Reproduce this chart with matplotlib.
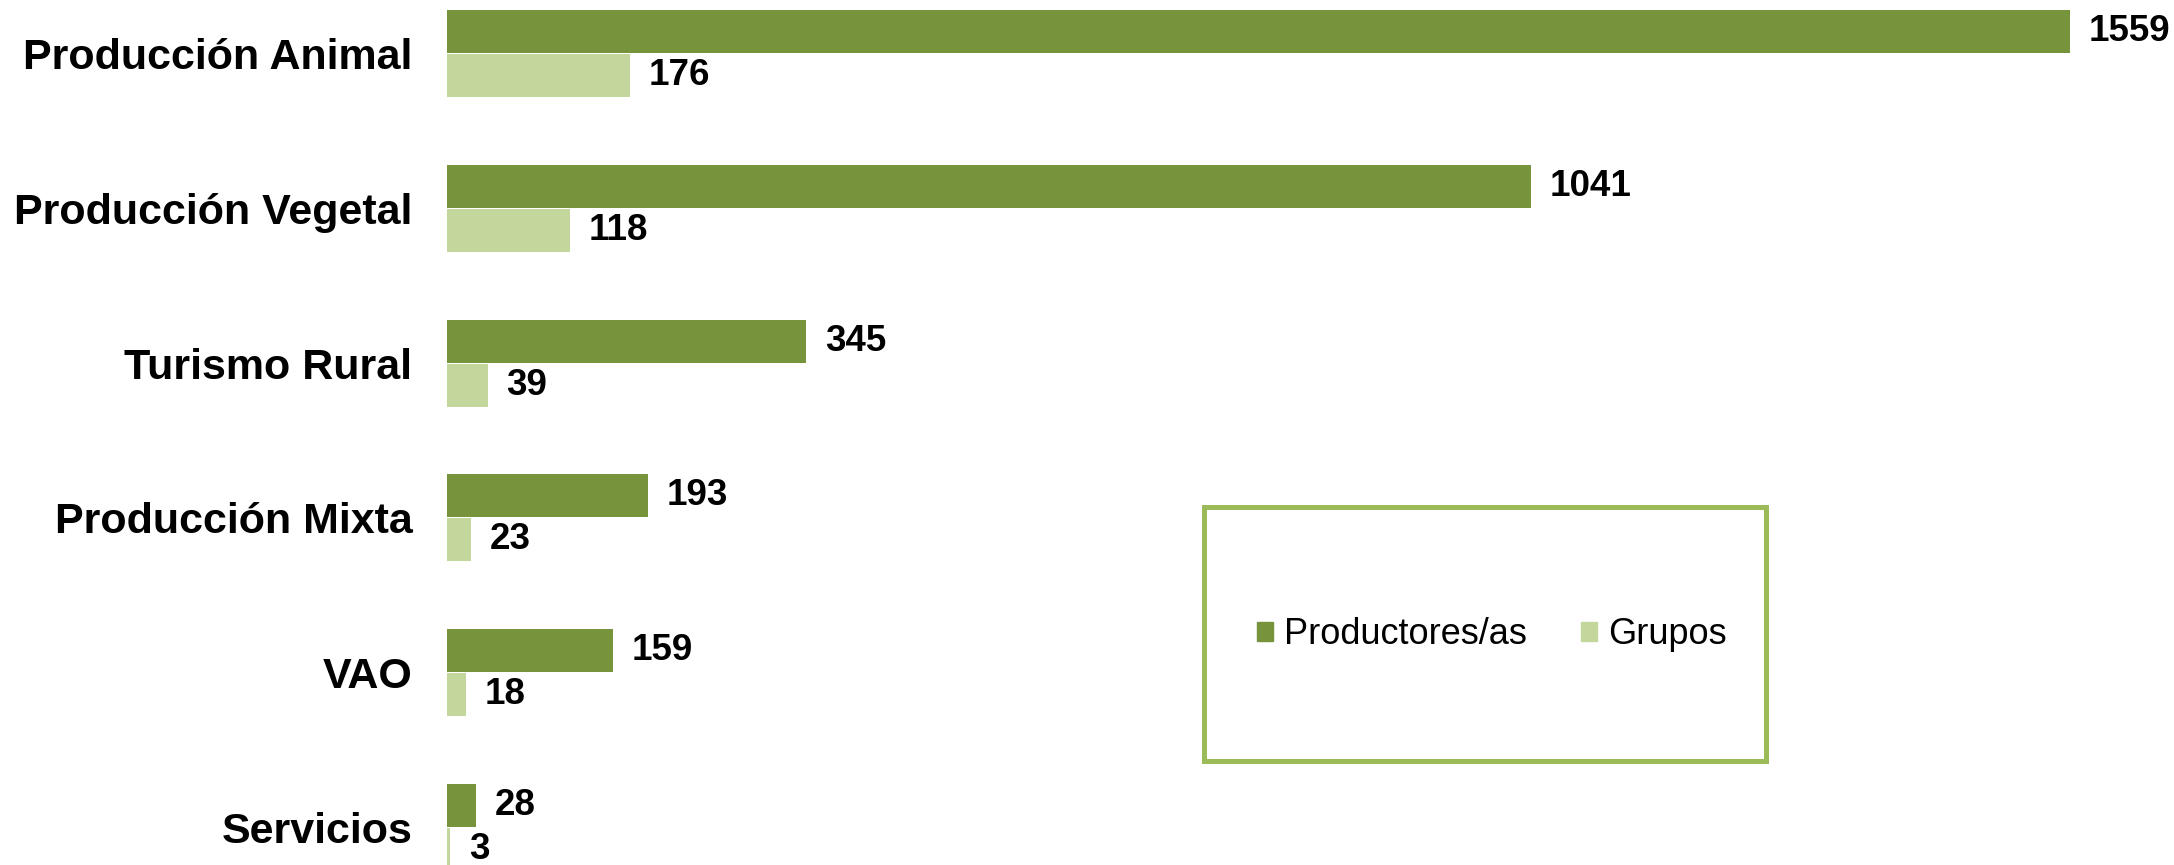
import numpy as np
import matplotlib
matplotlib.use('Agg')
import matplotlib.pyplot as plt
from matplotlib.patches import Patch, Rectangle

plt.rcParams['font.family'] = ['Liberation Sans', 'DejaVu Sans']

# chart data
categories = ['Producción Animal', 'Producción Vegetal', 'Turismo Rural',
              'Producción Mixta', 'VAO', 'Servicios']
productores = [1559, 1041, 345, 193, 159, 28]
grupos = [176, 118, 39, 23, 18, 3]
series_names = ['Productores/as', 'Grupos']

dark_green = '#77933C'
light_green = '#C3D69B'
border_green = '#9BBB59'

W, H = 2174, 865
fig = plt.figure(figsize=(W / 100, H / 100), dpi=100)

# axes spans full height, bottom group is cut by the figure edge like the original
left_px = 447
ax = fig.add_axes([left_px / W, 0, 1 - left_px / W, 1])

pos = np.arange(len(categories))
bar_h = 0.278
offset = 0.142

bars_p = ax.barh(pos - offset, productores, height=bar_h, color=dark_green)
bars_g = ax.barh(pos + offset, grupos, height=bar_h, color=light_green)

for bars in (bars_p, bars_g):
    ax.bar_label(bars, padding=13.5, fontsize=26.5, fontweight='bold')

ax.set_xlim(0, (W - left_px) / 1.041)
ax.set_ylim(5.242, -0.3456)

ax.set_yticks(pos)
ax.set_yticklabels(categories, fontsize=31, fontweight='bold')
ax.tick_params(axis='y', length=0, pad=25)
ax.set_xticks([])
for s in ax.spines.values():
    s.set_visible(False)

# legend inside a framed box
bx0, by0, bx1, by1 = 1204, 507, 1766, 761
fig.patches.append(Rectangle((bx0 / W, 1 - by1 / H), (bx1 - bx0) / W, (by1 - by0) / H,
                             transform=fig.transFigure, fill=False,
                             edgecolor=border_green, linewidth=3.6))
handles = [Patch(color=dark_green), Patch(color=light_green)]
fig.legend(handles, series_names, loc='center',
           bbox_to_anchor=(1492 / W, 1 - 635 / H),
           ncol=2, frameon=False, fontsize=26, handlelength=0.44, handleheight=0.44,
           handletextpad=0.3, columnspacing=1.5)

fig.savefig('out.png', dpi=100)
